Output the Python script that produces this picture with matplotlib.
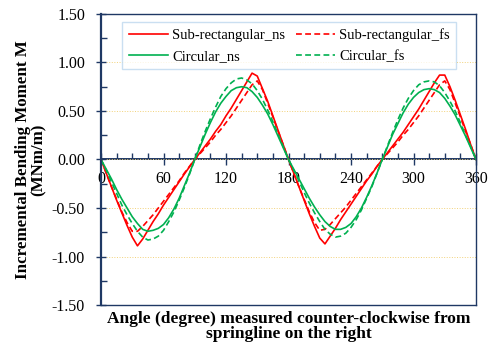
import matplotlib
matplotlib.use("Agg")
import matplotlib.pyplot as plt
from matplotlib.ticker import MultipleLocator, FormatStrFormatter

plt.rcParams['font.family'] = ['Liberation Serif', 'DejaVu Serif']

angles = list(range(0, 361, 5))

sub_rect_ns = [0, -0.14, -0.28, -0.42, -0.55, -0.68, -0.80, -0.89, -0.82, -0.73,
               -0.64, -0.56, -0.47, -0.39, -0.31, -0.23, -0.15, -0.075, 0,
               0.07, 0.14, 0.21, 0.29, 0.36, 0.45, 0.53, 0.62, 0.71, 0.80, 0.89,
               0.86, 0.73, 0.60, 0.45, 0.30, 0.15, 0,
               -0.14, -0.28, -0.42, -0.56, -0.69, -0.81, -0.87, -0.79, -0.71,
               -0.62, -0.54, -0.46, -0.38, -0.30, -0.22, -0.15, -0.07, 0,
               0.07, 0.14, 0.21, 0.28, 0.36, 0.44, 0.52, 0.61, 0.70, 0.79, 0.87,
               0.87, 0.75, 0.61, 0.46, 0.31, 0.15, 0]

sub_rect_fs = [0, -0.14, -0.28, -0.41, -0.54, -0.65, -0.74, -0.74, -0.69, -0.63,
               -0.57, -0.50, -0.43, -0.36, -0.29, -0.22, -0.14, -0.07, 0,
               0.06, 0.12, 0.18, 0.25, 0.31, 0.38, 0.45, 0.53, 0.61, 0.69, 0.77,
               0.81, 0.72, 0.58, 0.44, 0.29, 0.15, 0,
               -0.14, -0.28, -0.41, -0.54, -0.65, -0.73, -0.72, -0.67, -0.61,
               -0.55, -0.49, -0.42, -0.35, -0.28, -0.21, -0.14, -0.07, 0,
               0.06, 0.12, 0.18, 0.25, 0.31, 0.38, 0.45, 0.53, 0.61, 0.69, 0.77,
               0.81, 0.72, 0.58, 0.44, 0.29, 0.15, 0]

circular_ns = [0, -0.10, -0.20, -0.31, -0.41, -0.50, -0.59, -0.66, -0.72, -0.74,
               -0.73, -0.71, -0.67, -0.60, -0.51, -0.40, -0.27, -0.14, 0,
               0.13, 0.26, 0.38, 0.49, 0.58, 0.65, 0.71, 0.74, 0.75,
               0.74, 0.70, 0.64, 0.56, 0.47, 0.36, 0.24, 0.12, 0,
               -0.10, -0.20, -0.30, -0.40, -0.49, -0.57, -0.64, -0.69, -0.72,
               -0.72, -0.70, -0.66, -0.59, -0.50, -0.39, -0.27, -0.14, 0,
               0.13, 0.26, 0.37, 0.48, 0.57, 0.64, 0.69, 0.72, 0.73,
               0.72, 0.69, 0.63, 0.55, 0.46, 0.35, 0.24, 0.12, 0]

circular_fs = [0, -0.11, -0.23, -0.35, -0.47, -0.57, -0.66, -0.74, -0.80, -0.83,
               -0.82, -0.79, -0.73, -0.64, -0.54, -0.42, -0.29, -0.15, 0,
               0.15, 0.29, 0.42, 0.54, 0.65, 0.73, 0.79, 0.83, 0.84,
               0.82, 0.78, 0.71, 0.62, 0.51, 0.39, 0.26, 0.13, 0,
               -0.11, -0.22, -0.34, -0.45, -0.55, -0.64, -0.72, -0.77, -0.80,
               -0.79, -0.76, -0.70, -0.62, -0.52, -0.40, -0.28, -0.14, 0,
               0.14, 0.28, 0.41, 0.53, 0.63, 0.71, 0.77, 0.80, 0.81,
               0.80, 0.76, 0.69, 0.60, 0.50, 0.38, 0.25, 0.13, 0]

x_ticks = [0, 60, 120, 180, 240, 300, 360]
y_ticks = [-1.5, -1.0, -0.5, 0.0, 0.5, 1.0, 1.5]

navy = '#1f3864'
red = '#ff0000'
green = '#00b050'
dash = (0, (3.5, 2))

fig = plt.figure(figsize=(4.92, 3.49), dpi=100)
ax = fig.add_axes([0.2053, 0.126, 0.7622, 0.834])

l1, = ax.plot(angles, sub_rect_ns, color=red, lw=1.2, label='Sub-rectangular_ns')
l2, = ax.plot(angles, sub_rect_fs, color=red, lw=1.2, ls=dash, label='Sub-rectangular_fs')
l3, = ax.plot(angles, circular_ns, color=green, lw=1.2, label='Circular_ns')
l4, = ax.plot(angles, circular_fs, color=green, lw=1.2, ls=dash, label='Circular_fs')

ax.set_xlim(0, 360)
ax.set_ylim(-1.5, 1.5)
ax.set_yticks(y_ticks)
ax.yaxis.set_major_formatter(FormatStrFormatter('%.2f'))
ax.yaxis.set_minor_locator(MultipleLocator(0.25))
ax.tick_params(axis='y', which='major', direction='inout', length=7, width=1,
               color=navy, labelsize=11.5, pad=8)
ax.tick_params(axis='y', which='minor', direction='in', length=4, width=1, color=navy)
ax.tick_params(axis='y', right=False)
ax.tick_params(axis='x', which='both', bottom=False, labelbottom=False)

ax.grid(axis='y', which='major', color='#f2d27a', ls=':', lw=0.7)
ax.set_axisbelow(True)

for side in ['top', 'right', 'bottom']:
    ax.spines[side].set_color(navy)
    ax.spines[side].set_linewidth(1.0)
ax.spines['left'].set_color(navy)
ax.spines['left'].set_linewidth(1.6)

sec = ax.secondary_xaxis(0.5)
sec.xaxis.set_ticks_position('bottom')
sec.xaxis.set_label_position('bottom')
sec.spines['bottom'].set_visible(True)
sec.spines['top'].set_visible(False)
sec.set_xticks(x_ticks)
sec.xaxis.set_minor_locator(MultipleLocator(15))
sec.spines['bottom'].set_color(navy)
sec.spines['bottom'].set_linewidth(1.4)
sec.tick_params(axis='x', which='major', direction='inout', length=8, width=1,
                color=navy, labelsize=11.5, pad=4, bottom=True, labelbottom=True,
                top=False, labeltop=False)
sec.tick_params(axis='x', which='minor', direction='in', length=4, width=1, color=navy,
                bottom=True, top=False)

ax.set_ylabel('Incremental Bending Moment M\n(MNm/m)', fontsize=12.2,
              fontweight='bold', labelpad=4, linespacing=0.95)
ax.set_xlabel('Angle (degree) measured counter-clockwise from\nspringline on the right',
              fontsize=12.5, fontweight='bold', labelpad=4, linespacing=0.95)

leg = ax.legend([l1, l3, l2, l4],
                ['Sub-rectangular_ns', 'Circular_ns', 'Sub-rectangular_fs', 'Circular_fs'],
                ncol=2, loc='upper left', bbox_to_anchor=(0.056, 0.9725),
                borderaxespad=0, fontsize=10.5, handlelength=2.7, handletextpad=0.3,
                columnspacing=0.7, labelspacing=0.5, frameon=True, fancybox=False,
                borderpad=0.45)
leg.get_frame().set_edgecolor('#bdd7ee')
leg.get_frame().set_linewidth(1.0)

fig.savefig('out.png', dpi=100)
